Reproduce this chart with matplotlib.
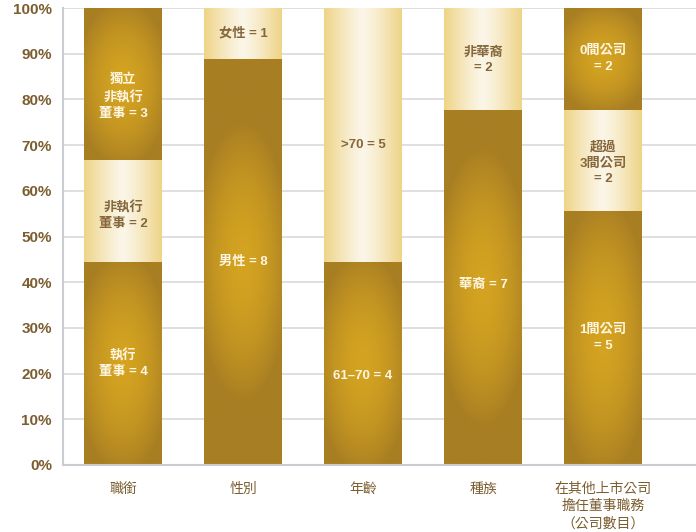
import numpy as np
import matplotlib.pyplot as plt
from matplotlib.colors import to_rgb

plt.rcParams['font.family'] = ['Noto Sans CJK TC', 'DejaVu Sans']

# 資料
categories = ['職銜', '性別', '年齡', '種族', '在其他上市公司\n擔任董事職務\n（公司數目）']
seg_counts = [
    [4, 2, 3],
    [8, 1],
    [4, 5],
    [7, 2],
    [5, 2, 2],
]
seg_labels = [
    ['執行\n董事 = 4', '非執行\n董事 = 2', '獨立\n非執行\n董事 = 3'],
    ['男性 = 8', '女性 = 1'],
    ['61–70 = 4', '>70 = 5'],
    ['華裔 = 7', '非華裔\n= 2'],
    ['1間公司\n= 5', '超過\n3間公司\n= 2', '0間公司\n= 2'],
]
seg_dark = [
    [True, False, True],
    [True, False],
    [True, False],
    [True, False],
    [True, False, True],
]
# 標籤垂直偏移（點）
label_dy = [
    [0, -3, -9],
    [0, 0],
    [-9, -7],
    [2, -1],
    [0, -2, 0],
]
yticks = np.arange(0, 101, 10)

DARK_C = np.array(to_rgb('#d4a321'))
DARK_E = np.array(to_rgb('#a87e23'))
LIGHT_C = np.array(to_rgb('#fbf6e9'))
LIGHT_E = np.array(to_rgb('#efd487'))
TXT_DARK = '#fff6e2'
TXT_LIGHT = '#86673a'
TICK_C = '#7b5d2f'
LAT_CJK = ['Liberation Sans', 'Noto Sans CJK TC', 'DejaVu Sans']


def radial_img(wpx, hpx):
    ny, nx = 160, 60
    u = np.linspace(-1, 1, nx)
    v = np.linspace(-1, 1, ny)
    U, V = np.meshgrid(u, v)
    rx = wpx / 2 * 1.25
    ry = min(hpx / 2 * 1.1, 140)
    r = np.sqrt((U * wpx / 2 / rx) ** 2 + (V * hpx / 2 / ry) ** 2)
    t = np.clip(r, 0, 1) ** 1.8
    return DARK_C * (1 - t[..., None]) + DARK_E * t[..., None]


def linear_img():
    u = np.linspace(-1, 1, 80)
    t = np.clip(np.abs(u), 0, 1) ** 1.2
    row = LIGHT_C * (1 - t[:, None]) + LIGHT_E * t[:, None]
    return np.repeat(row[None, :, :], 4, axis=0)


fig = plt.figure(figsize=(6.96, 5.32), dpi=100)
ax = fig.add_axes([63 / 696, 67 / 532, 633 / 696, 457 / 532])

x = np.arange(len(categories))
bw = 0.65
for i, counts in enumerate(seg_counts):
    total = sum(counts)
    bottom = 0
    for j, c in enumerate(counts):
        pct = c / total * 100
        bars = ax.bar(x[i], pct, bw, bottom=bottom, color='none', linewidth=0, zorder=2)
        p = bars[0]
        x0, y0 = p.get_x(), p.get_y()
        w, h = p.get_width(), p.get_height()
        hpx = h / 100 * 457
        wpx = w * 120
        if seg_dark[i][j]:
            img = radial_img(wpx, hpx)
            tc = TXT_DARK
        else:
            img = linear_img()
            tc = TXT_LIGHT
        im = ax.imshow(img, extent=(x0, x0 + w, y0, y0 + h), origin='lower',
                       aspect='auto', interpolation='bilinear', zorder=2)
        im.set_clip_path(p)
        ax.annotate(seg_labels[i][j], (x[i], bottom + pct / 2),
                    xytext=(0, label_dy[i][j]), textcoords='offset points',
                    ha='center', va='center', fontsize=9.5, fontweight='bold',
                    color=tc, linespacing=1.4, family=LAT_CJK, zorder=3)
        bottom += pct

ax.set_xlim(-0.5, 4.775)
ax.set_ylim(0, 100)
ax.set_yticks(yticks)
ax.set_yticklabels([f'{t}%' for t in yticks], fontsize=11, fontweight='bold',
                   color=TICK_C, family=['Liberation Sans', 'DejaVu Sans'])
ax.set_xticks(x)
ax.set_xticklabels(categories, fontsize=10, color=TICK_C, linespacing=1.3)
ax.tick_params(axis='both', length=0)
ax.tick_params(axis='y', pad=8)
ax.tick_params(axis='x', pad=12)
ax.grid(axis='y', color='#d9d9d9', linewidth=1.2, zorder=0)
ax.set_axisbelow(True)
for s in ['top', 'right']:
    ax.spines[s].set_visible(False)
for s in ['left', 'bottom']:
    ax.spines[s].set_color('#c9cdd1')
    ax.spines[s].set_linewidth(1.5)

fig.savefig('out.png', dpi=100)
